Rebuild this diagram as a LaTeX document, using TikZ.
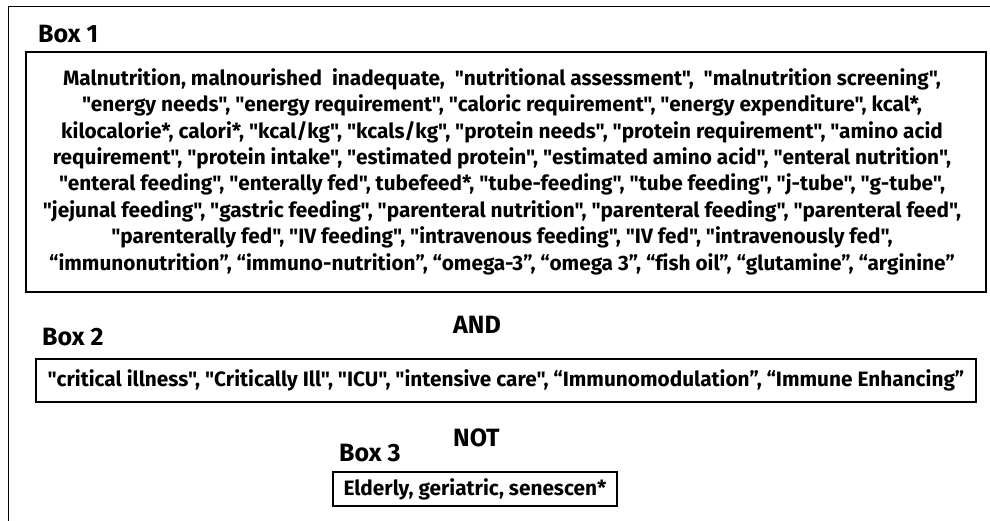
\documentclass[tikz,border=0pt]{standalone}
\usepackage{fontspec}
\setmainfont{Fira Sans}[Ligatures={TeXOff,NoCommon}]
\newcommand\bodyfnt{\bfseries\fontsize{20.8}{26.4}\selectfont}
\newcommand\labelfnt{\bfseries\fontsize{25}{28}\selectfont}
\begin{document}
\begin{tikzpicture}[x=1pt,y=-1pt,
  frame/.style={line width=1.5pt},
  box/.style={draw, line width=1.5pt, inner sep=0pt, align=center, font=\bodyfnt},
  body/.style={inner sep=0pt, align=center, font=\bodyfnt},
  lbl/.style={anchor=base west, inner sep=0pt, font=\labelfnt}]
\useasboundingbox (0,0) rectangle (990,521);
\coordinate (fa) at (8.5,521);
\coordinate (fb) at (8.5,6.5);
\coordinate (fc) at (991,6.5);
\draw[frame] (fa) -- (fb) -- (fc);

\node[lbl] (l1) at (38,42.5) {Box 1};
\node[box, minimum width=960pt, minimum height=240pt] (b1) at (506,172) {};
\node[body] (t1) at (502,171.5) {%
Malnutrition, malnourished\ \ inadequate,\ \ "nutritional assessment",\ \ "malnutrition screening",\\
"energy needs", "energy requirement", "caloric requirement", "energy expenditure", kcal*,\\
kilocalorie*, calori*, "kcal/kg", "kcals/kg", "protein needs", "protein requirement", "amino acid\\
requirement", "protein intake", "estimated protein", "estimated amino acid", "enteral nutrition",\\
"enteral feeding", "enterally fed", tubefeed*, "tube-feeding", "tube feeding", "j-tube", "g-tube",\\
"jejunal feeding", "gastric feeding", "parenteral nutrition", "parenteral feeding", "parenteral feed",\\
"parenterally fed", "IV feeding", "intravenous feeding", "IV fed", "intravenously fed",\\
“immunonutrition”, “immuno-nutrition”, “omega-3”, “omega 3”, “fish oil”, “glutamine”, “arginine”};

\node[lbl] (and) at (453,333) {AND};
\node[lbl] (l2) at (42,345) {Box 2};
\node[box, minimum width=940pt, minimum height=43pt] (b2) at (506,380.5) {%
"critical illness", "Critically Ill", "ICU", "intensive care", “Immunomodulation”, “Immune Enhancing”};

\node[lbl] (not) at (453,446) {NOT};
\node[lbl] (l3) at (339,461) {Box 3};
\node[box, minimum width=284pt, minimum height=34pt] (b3) at (475,489) {Elderly, geriatric, senescen*};
\end{tikzpicture}
\end{document}
